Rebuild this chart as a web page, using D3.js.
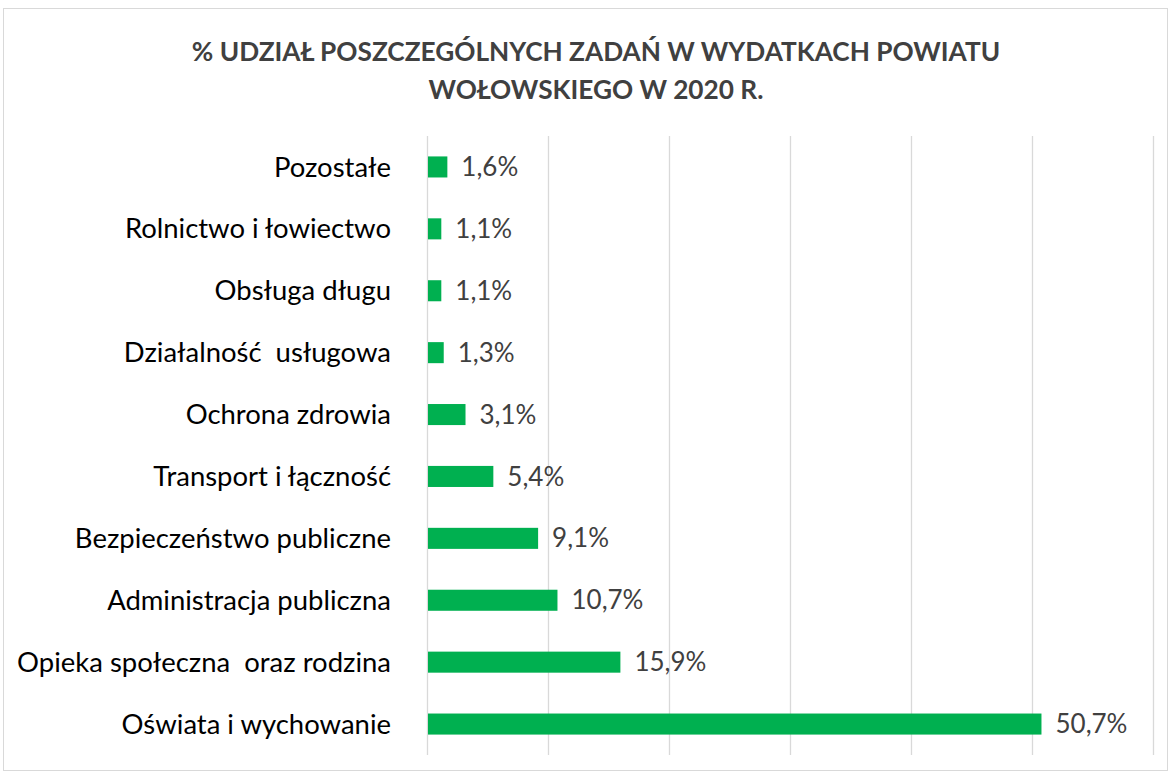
<!DOCTYPE html>
<html>
<head>
<meta charset="utf-8">
<script src="https://d3js.org/d3.v7.min.js"></script>
<style>
body{margin:0;background:#fff;}
text{font-family:Lato,"Open Sans",sans-serif;}
</style>
</head>
<body>
<svg id="chart"></svg>
<script>
// dane
const categories=['Pozostałe','Rolnictwo i łowiectwo','Obsługa długu','Działalność  usługowa','Ochrona zdrowia','Transport i łączność','Bezpieczeństwo publiczne','Administracja publiczna','Opieka społeczna  oraz rodzina','Oświata i wychowanie'];
const values=[1.6,1.1,1.1,1.3,3.1,5.4,9.1,10.7,15.9,50.7];
const ticks=[0,10,20,30,40,50,60];
const titleLines=['% UDZIAŁ POSZCZEGÓLNYCH ZADAŃ W WYDATKACH POWIATU','WOŁOWSKIEGO W 2020 R.'];

const W=1171,H=776;
const svg=d3.select('#chart').attr('width',W).attr('height',H);

// font size so that a sample text gets the wanted width
function fitSize(txt,target,weight){
  const t=svg.append('text').style('font-size','20px').style('font-weight',weight||'normal')
    .style('white-space','pre').text(txt);
  const w=t.node().getComputedTextLength();
  t.remove();
  return 20*target/w;
}

svg.append('rect').attr('x',3.5).attr('y',8.5).attr('width',1164).attr('height',762)
  .attr('fill','#fff').attr('stroke','#d9d9d9').attr('stroke-width',1);

const catSize=fitSize('Opieka społeczna  oraz rodzina',374);
const valSize=fitSize('50,7%',72);
const titleSize=fitSize(titleLines[0],809,'bold');

const x=d3.scaleLinear().domain([0,60]).range([427,1153]);
const y=d3.scaleBand().domain(categories).range([136,755]).paddingInner(0.66).paddingOuter(0.33);

// gridlines
svg.selectAll('.grid').data(ticks).enter().append('line')
  .attr('x1',d=>x(d)+0.5).attr('x2',d=>x(d)+0.5)
  .attr('y1',136).attr('y2',755)
  .attr('stroke','#d9d9d9').attr('stroke-width',1.3);

// title
svg.selectAll('.title').data(titleLines).enter().append('text')
  .attr('x',596).attr('y',(d,i)=>61+i*38)
  .attr('text-anchor','middle')
  .style('font-size',titleSize+'px').style('font-weight','bold')
  .attr('fill','#404040')
  .text(d=>d);

// bars
svg.selectAll('.bar').data(values).enter().append('rect')
  .attr('x',x(0)+1)
  .attr('y',(d,i)=>y(categories[i]))
  .attr('width',d=>x(d)-x(0))
  .attr('height',y.bandwidth())
  .attr('fill','#00b050');

// category labels
svg.selectAll('.cat').data(categories).enter().append('text')
  .attr('x',391).attr('y',d=>y(d)+y.bandwidth()/2)
  .attr('dy','0.35em').attr('text-anchor','end')
  .style('font-size',catSize+'px').style('white-space','pre')
  .attr('fill','#000')
  .text(d=>d);

// value labels
svg.selectAll('.val').data(values).enter().append('text')
  .attr('x',d=>x(d)+15).attr('y',(d,i)=>y(categories[i])+y.bandwidth()/2)
  .attr('dy','0.35em')
  .style('font-size',valSize+'px')
  .attr('fill','#404040')
  .text(d=>d.toFixed(1).replace('.',',')+'%');
</script>
</body>
</html>
